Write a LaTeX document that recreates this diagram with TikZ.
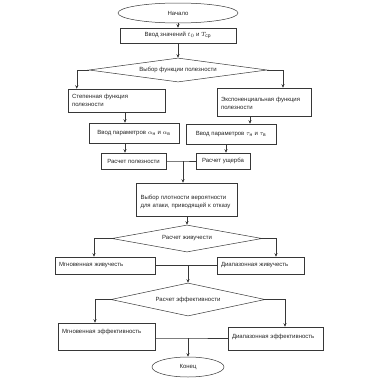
\documentclass[tikz,border=0pt]{standalone}
\usepackage{fontspec}
\setmainfont{Liberation Sans}
\usepackage{amsmath}
\usepackage{xcolor}
\definecolor{fcline}{RGB}{55, 55, 55}
\definecolor{fctext}{RGB}{35, 35, 35}
\usetikzlibrary{arrows.meta, shapes.geometric}

\begin{document}
\begin{tikzpicture}[x=1pt, y=-1pt, >={Stealth[length=3.5pt, width=3pt]},
    every node/.style={font=\fontsize{6}{8}\selectfont, text=fctext},
    box/.style={draw=fcline, line width=0.5pt, rectangle, inner sep=2pt},
    term/.style={box, ellipse},
    choice/.style={box, diamond, aspect=8, inner sep=0pt},
    link/.style={draw=fcline, line width=0.5pt},
    arr/.style={link, ->}]

\useasboundingbox (0, 0) rectangle (380, 380);

% === Начало и ввод ===
\node[term, minimum width=120pt, minimum height=20pt] (start) at (178, 13) {Начало};
\node[box, minimum width=116pt, minimum height=15pt] (input) at (178, 35.5)
    {Ввод значений $t_0$ и $T_{\text{ср}}$};

% === Выбор функции полезности ===
\node[choice, minimum width=178pt, minimum height=24pt] (choose) at (178, 70)
    {Выбор функции полезности};

\node[box, minimum width=97pt, minimum height=23pt, text width=89pt, align=left]
    (powfn) at (116.5, 100.5) {Степенная функция\\полезности};
\node[box, minimum width=94pt, minimum height=28pt, text width=86pt, align=left,
    text depth=6pt] (expfn) at (264, 102) {Экспоненциальная функция\\полезности};

% Ввод параметров
\node[box, minimum width=90pt, minimum height=20pt] (alpha) at (134, 133)
    {Ввод параметров $\alpha_{\text{н}}$ и $\alpha_{\text{в}}$};
\node[box, minimum width=90pt, minimum height=20pt] (tau) at (231, 134)
    {Ввод параметров $\tau_{\text{н}}$ и $\tau_{\text{в}}$};

% Расчет
\node[box, minimum width=65pt, minimum height=16pt] (util) at (133.5, 161) {Расчет полезности};
\node[box, minimum width=54pt, minimum height=16pt] (dmg) at (223, 161) {Расчет ущерба};
\coordinate (m1) at (183, 161);

% === Плотность вероятности ===
\node[box, minimum width=101pt, minimum height=33pt, text width=93pt, align=left,
    text depth=5pt] (prob) at (187, 199.5)
    {Выбор плотности вероятности\\для атаки, приводящей к отказу};

% === Расчет живучести ===
\node[choice, minimum width=150pt, minimum height=27pt] (surv) at (187, 238.5)
    {Расчет живучести};

\node[box, minimum width=100pt, minimum height=17pt, text width=92pt, align=left]
    (instsurv) at (105, 265.5) {Мгновенная живучесть};
\node[box, minimum width=87pt, minimum height=17pt, text width=79pt, align=left]
    (rangesurv) at (260.5, 265.5) {Диапазонная живучесть};
\coordinate (m2) at (188, 265.5);

% === Расчет эффективности ===
\node[choice, minimum width=154pt, minimum height=33pt] (eff) at (188, 299.5)
    {Расчет эффективности};

\node[box, minimum width=97pt, minimum height=27pt, text width=89pt, align=left,
    text depth=10pt] (insteff) at (106.5, 336.5) {Мгновенная эффективность};
\node[box, minimum width=95pt, minimum height=23pt, text width=87pt, align=left,
    text depth=4pt] (rangeeff) at (275.5, 338.5) {Диапазонная эффективность};
\coordinate (m3) at (188, 338);

% === Конец ===
\node[term, minimum width=72pt, minimum height=20pt] (stop) at (188, 367) {Конец};

% === Связи ===
\draw[arr] (start) -- (input);
\draw[arr] (input) -- (choose);
\draw[arr] (choose.west) -| ([xshift=9pt]powfn.north west);
\draw[arr] (choose.east) -| ([xshift=19pt]expfn.north);
\draw[arr] ([xshift=-9pt]alpha.north |- powfn.south) -- ([xshift=-9pt]alpha.north);
\draw[arr] ([xshift=19pt]tau.north |- expfn.south) -- ([xshift=19pt]tau.north);
\draw[arr] ([xshift=-8.5pt]util.north |- alpha.south) -- ([xshift=-8.5pt]util.north);
\draw[arr] ([xshift=3pt]dmg.north |- tau.south) -- ([xshift=3pt]dmg.north);
\draw[link] (util.east) -- (m1) -- (dmg.west);
\draw[arr] (m1) -- (m1 |- prob.north);
\draw[arr] (prob) -- (surv);
\draw[arr] (surv.west) -| ([xshift=-11pt]instsurv.north);
\draw[arr] (surv.east) -| ([xshift=15.5pt]rangesurv.north);
\draw[link] (instsurv.east) -- (m2) -- (rangesurv.west);
\draw[arr] (m2) -- (eff.north);
\draw[arr] (eff.west) -| ([xshift=-11.5pt]insteff.north);
\draw[arr] (eff.east) -| ([xshift=9.5pt]rangeeff.north);
\draw[link] (m3 -| insteff.east) -- (m3) -- (m3 -| rangeeff.west);
\draw[arr] (m3) -- (stop);

\end{tikzpicture}
\end{document}
